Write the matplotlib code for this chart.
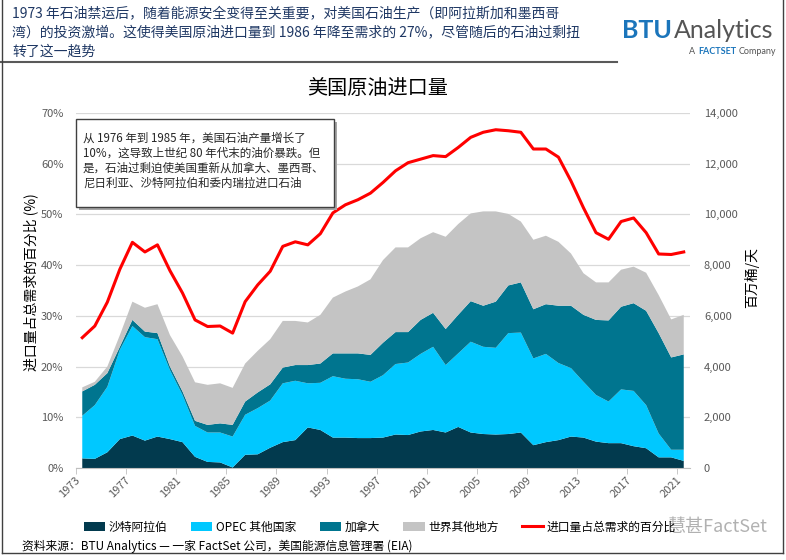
import matplotlib
matplotlib.use("Agg")
import matplotlib.pyplot as plt
from matplotlib.patches import Rectangle, Patch
from matplotlib.lines import Line2D
from matplotlib.ticker import FuncFormatter, FixedLocator

plt.rcParams['font.family'] = ['Noto Sans CJK SC', 'DejaVu Sans']

# data, thousand barrels per day (right axis) and % of demand (left axis)
years = list(range(1973, 2022))
saudi = [380, 360, 620, 1140, 1280, 1080, 1240, 1140, 1020, 440,
         240, 220, 20, 520, 540, 800, 1020, 1100, 1600, 1500,
         1200, 1200, 1180, 1180, 1200, 1320, 1300, 1440, 1500, 1400,
         1620, 1400, 1340, 1320, 1340, 1400, 900, 1020, 1100, 1240,
         1200, 1040, 980, 980, 860, 780, 420, 420, 280]
opec_other = [1680, 2120, 2580, 3520, 4320, 4080, 3840, 2720, 1860, 1220,
              1160, 1180, 1220, 1580, 1820, 1860, 2320, 2340, 1740, 1860,
              2420, 2320, 2320, 2220, 2460, 2780, 2860, 3060, 3280, 2660,
              2900, 3580, 3440, 3420, 3980, 3940, 3420, 3480, 3040, 2700,
              2200, 1840, 1640, 2120, 2180, 1700, 940, 300, 440]
canada = [960, 800, 540, 120, 240, 220, 240, 140, 140, 200,
          300, 360, 460, 520, 620, 640, 620, 620, 720, 760,
          900, 1000, 1020, 1060, 1280, 1260, 1200, 1340, 1340, 1420,
          1520, 1600, 1620, 1820, 1880, 1980, 1940, 1960, 2260, 2460,
          2640, 2960, 3200, 3260, 3460, 3720, 3960, 3640, 3760]
rest_world = [160, 120, 260, 460, 720, 940, 1140, 1240, 1380, 1520,
              1580, 1580, 1460, 1500, 1640, 1780, 1840, 1740, 1680, 1920,
              2200, 2440, 2640, 2980, 3260, 3340, 3340, 3220, 3180, 3640,
              3580, 3460, 3720, 3560, 2820, 2400, 2740, 2700, 2520, 2060,
              1640, 1480, 1500, 1460, 1440, 1500, 1500, 1500, 1560]
import_share = [25.7, 28.0, 32.7, 39.2, 44.5, 42.6, 44.0, 38.9, 34.5, 29.2,
                27.9, 28.0, 26.6, 32.8, 36.1, 38.8, 43.7, 44.6, 44.0, 46.2,
                50.3, 51.9, 52.9, 54.2, 56.3, 58.6, 60.2, 60.9, 61.6, 61.4,
                63.2, 65.2, 66.2, 66.7, 66.5, 66.2, 62.9, 62.9, 61.3, 56.6,
                51.3, 46.4, 45.1, 48.6, 49.3, 46.4, 42.2, 42.1, 42.6]

series_names = ['沙特阿拉伯', 'OPEC 其他国家', '加拿大', '世界其他地方']
line_name = '进口量占总需求的百分比'
colors = ['#023A4E', '#00C8FF', '#00758F', '#C4C4C4']
red = '#FF0000'
tick_years = list(range(1973, 2022, 4))

W, H = 786, 560
def fx(px):
    return px / W
def fy(py):
    return 1 - py / H

fig = plt.figure(figsize=(7.86, 5.6), dpi=100)

ax = fig.add_axes([fx(76), fy(468), fx(690) - fx(76), fy(113) - fy(468)])
ax2 = ax.twinx()
ax.set_zorder(ax2.get_zorder() + 1)
ax.patch.set_visible(False)

ax2.stackplot(years, saudi, opec_other, canada, rest_world, colors=colors, linewidth=0)
ax2.set_ylim(0, 14000)
ax2.set_yticks(range(0, 14001, 2000))
ax2.yaxis.set_major_formatter(FuncFormatter(lambda v, p: f'{int(v):,}'))
ax2.grid(axis='y', color='#D9D9D9', lw=0.9)
ax2.set_axisbelow(True)
ax2.tick_params(axis='y', length=0, pad=10, labelsize=8, labelcolor='#595959')

ax.plot(years, import_share, color=red, lw=2.2)
ax.set_ylim(0, 70)
ax.set_yticks(range(0, 71, 10))
ax.yaxis.set_major_formatter(FuncFormatter(lambda v, p: f'{int(v)}%'))
ax.tick_params(axis='y', length=0, pad=9, labelsize=8, labelcolor='#595959')

ax.set_xlim(1972.5, 2021.5)
ax.set_xticks(tick_years)
ax.set_xticklabels([str(y) for y in tick_years], rotation=45, ha='right', va='top')
ax.xaxis.set_minor_locator(FixedLocator([y - 0.5 for y in tick_years]))
ax.tick_params(axis='x', which='major', length=0, pad=5, labelsize=8, labelcolor='#595959')
ax.tick_params(axis='x', which='minor', length=4, color='#BFBFBF')

for a in (ax, ax2):
    for s in ['top', 'left', 'right', 'bottom']:
        a.spines[s].set_visible(False)
ax.spines['bottom'].set_visible(True)
ax.spines['bottom'].set_color('#BFBFBF')

fig.text(fx(31), fy(282), '进口量占总需求的百分比 (%)', rotation=90, ha='center', va='center', fontsize=10)
fig.text(fx(752), fy(278), '百万桶/天', rotation=90, ha='center', va='center', fontsize=10)
fig.text(fx(378), fy(88), '美国原油进口量', ha='center', va='center', fontsize=14.5)

# header
header = ['1973 年石油禁运后，随着能源安全变得至关重要，对美国石油生产（即阿拉斯加和墨西哥',
          '湾）的投资激增。这使得美国原油进口量到 1986 年降至需求的 27%，尽管随后的石油过剩扭',
          '转了这一趋势']
for i, line in enumerate(header):
    fig.text(fx(12), fy(13 + 19.5 * i), line, ha='left', va='center', fontsize=10, color='#1F3864')
fig.add_artist(Line2D([0, fx(617)], [fy(62), fy(62)], color='#595959', lw=1.5))
fig.add_artist(Line2D([fx(2), fx(2)], [fy(0), fy(553)], color='#404040', lw=1))
fig.add_artist(Line2D([fx(783), fx(783)], [fy(0), fy(553)], color='#404040', lw=1))
fig.add_artist(Line2D([fx(2), fx(783)], [fy(553), fy(553)], color='#404040', lw=1))

# logo
fig.text(fx(672), fy(30), 'BTU', ha='right', va='center', fontsize=18, fontweight='bold',
         color='#1B75BB', family='Lato')
fig.text(fx(674), fy(30), 'Analytics', ha='left', va='center', fontsize=18,
         color='#555555', family='Lato')
renderer = fig.canvas.get_renderer()
right = 776
for word, wt, col in [('Company', 'normal', '#555555'), ('FACTSET', 'bold', '#1B75BB'), ('A', 'normal', '#555555')]:
    t = fig.text(fx(right), fy(52), word, ha='right', va='center', fontsize=6.5,
                 fontweight=wt, color=col, family='Lato')
    bb = t.get_window_extent(renderer)
    right = right - bb.width - 2.5

# annotation box
fig.add_artist(Rectangle((fx(79), fy(210)), fx(334) - fx(76), fy(119) - fy(207),
                         facecolor='#A6A6A6', edgecolor='none', zorder=5))
fig.add_artist(Rectangle((fx(76), fy(207)), fx(334) - fx(76), fy(119) - fy(207),
                         facecolor='white', edgecolor='#404040', lw=1, zorder=6))
note = ['从 1976 年到 1985 年，美国石油产量增长了',
        '10%，这导致上世纪 80 年代末的油价暴跌。但',
        '是，石油过剩迫使美国重新从加拿大、墨西哥、',
        '尼日利亚、沙特阿拉伯和委内瑞拉进口石油']
for i, line in enumerate(note):
    fig.text(fx(83), fy(138 + 15 * i), line, ha='left', va='center', fontsize=8.3, color='#262626', zorder=7)

# legend
handles = [Patch(facecolor=c, edgecolor='none') for c in colors]
handles.append(Line2D([0], [0], color=red, lw=2.2))
fig.legend(handles, series_names + [line_name], loc='center', bbox_to_anchor=(fx(380), fy(527)),
           ncol=5, frameon=False, fontsize=8.5, handlelength=1.8, handleheight=0.8,
           columnspacing=2.0, handletextpad=0.3)

fig.text(fx(22), fy(546), '资料来源：BTU Analytics — 一家 FactSet 公司，美国能源信息管理署 (EIA)',
         ha='left', va='center', fontsize=8.5)
fig.text(fx(668), fy(527), '慧甚FactSet', ha='left', va='center', fontsize=13, color='#9E9E9E', alpha=0.8)

fig.savefig('out.png', dpi=100)
